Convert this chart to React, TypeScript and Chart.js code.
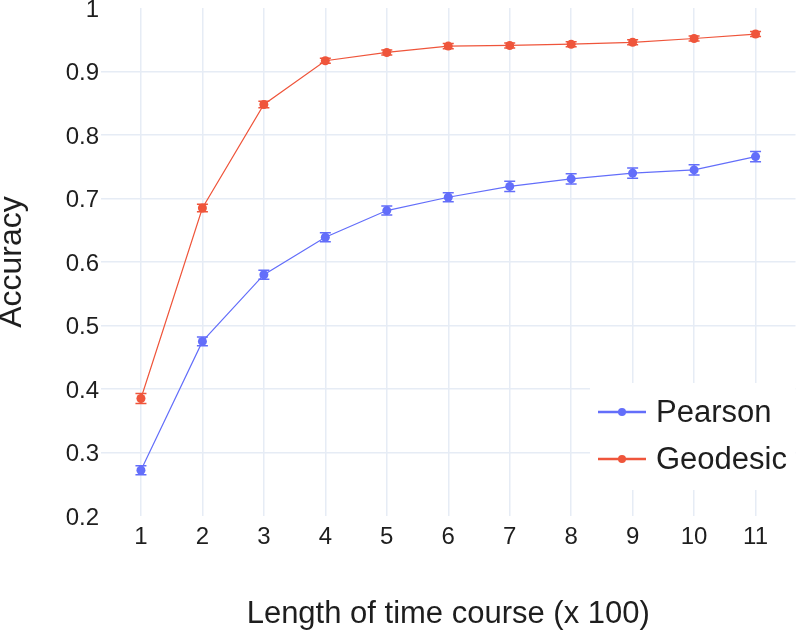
import React, { useEffect, useRef } from "react";
import { Chart, registerables } from "chart.js";

Chart.register(...registerables);

const xValues = [1, 2, 3, 4, 5, 6, 7, 8, 9, 10, 11];
const pearson = [0.272, 0.475, 0.58, 0.639, 0.681, 0.702, 0.719, 0.731, 0.74, 0.745, 0.766];
const pearsonErr = [0.007, 0.007, 0.007, 0.007, 0.007, 0.007, 0.008, 0.008, 0.008, 0.008, 0.008];
const geodesic = [0.385, 0.685, 0.848, 0.917, 0.93, 0.94, 0.941, 0.943, 0.946, 0.952, 0.959];
const geodesicErr = [0.008, 0.006, 0.005, 0.004, 0.004, 0.004, 0.004, 0.004, 0.004, 0.004, 0.004];
const seriesNames = ["Pearson", "Geodesic"];
const seriesColors = ["#636efa", "#ef553b"];
const yTicks = [0.2, 0.3, 0.4, 0.5, 0.6, 0.7, 0.8, 0.9, 1];
const xTitle = "Length of time course (x 100)";
const yTitle = "Accuracy";

const FONT = "'Liberation Sans', Arial, sans-serif";
const GRID = "#e6ecf5";
const TEXT = "#1e1e1e";

const errorBars = {
  id: "errorBars",
  beforeDatasetsDraw(chart: any) {
    const { ctx } = chart;
    const xs = chart.scales.x;
    const ys = chart.scales.y;
    chart.data.datasets.forEach((ds: any) => {
      const errs = ds.errors as number[];
      ctx.save();
      ctx.strokeStyle = ds.borderColor;
      ctx.lineWidth = 1.5;
      ds.data.forEach((p: any, j: number) => {
        const px = xs.getPixelForValue(p.x);
        const y1 = ys.getPixelForValue(p.y + errs[j]);
        const y2 = ys.getPixelForValue(p.y - errs[j]);
        const w = 5.5;
        ctx.beginPath();
        ctx.moveTo(px, y1);
        ctx.lineTo(px, y2);
        ctx.moveTo(px - w, y1);
        ctx.lineTo(px + w, y1);
        ctx.moveTo(px - w, y2);
        ctx.lineTo(px + w, y2);
        ctx.stroke();
      });
      ctx.restore();
    });
  },
};

const customLegend = {
  id: "customLegend",
  afterDraw(chart: any) {
    const { ctx, chartArea } = chart;
    const boxLeft = chartArea.left + 489;
    const boxTop = chartArea.top + 375;
    const boxRight = chartArea.right;
    const boxBottom = chartArea.top + 482;
    ctx.save();
    ctx.fillStyle = "#ffffff";
    ctx.fillRect(boxLeft, boxTop, boxRight - boxLeft, boxBottom - boxTop);
    chart.data.datasets.forEach((ds: any, i: number) => {
      const cy = boxTop + 29 + i * 47;
      const lx1 = boxLeft + 8;
      const lx2 = boxLeft + 56;
      ctx.strokeStyle = ds.borderColor;
      ctx.lineWidth = 2.5;
      ctx.beginPath();
      ctx.moveTo(lx1, cy);
      ctx.lineTo(lx2, cy);
      ctx.stroke();
      ctx.fillStyle = ds.borderColor;
      ctx.beginPath();
      ctx.arc((lx1 + lx2) / 2, cy, 4, 0, Math.PI * 2);
      ctx.fill();
      ctx.fillStyle = TEXT;
      ctx.font = `31px ${FONT}`;
      ctx.textBaseline = "middle";
      ctx.textAlign = "left";
      ctx.fillText(ds.label, boxLeft + 66, cy + 1);
    });
    ctx.restore();
  },
};

export default function App() {
  const ref = useRef<HTMLCanvasElement | null>(null);

  useEffect(() => {
    if (!ref.current) return;
    const seriesValues = [pearson, geodesic];
    const seriesErrs = [pearsonErr, geodesicErr];
    const chart = new Chart(ref.current, {
      type: "line",
      data: {
        datasets: seriesNames.map((name, i) => ({
          label: name,
          data: xValues.map((x, j) => ({ x, y: seriesValues[i][j] })),
          errors: seriesErrs[i],
          borderColor: seriesColors[i],
          backgroundColor: seriesColors[i],
          borderWidth: 1.2,
          pointRadius: 4.5,
          pointBorderWidth: 0,
          pointBackgroundColor: seriesColors[i],
          tension: 0,
        })) as any,
      },
      options: {
        animation: false,
        responsive: true,
        maintainAspectRatio: false,
        layout: { padding: { top: 8, left: 0, right: 0, bottom: 0 } },
        plugins: {
          legend: { display: false },
          tooltip: { enabled: false },
        },
        scales: {
          x: {
            type: "linear",
            min: 0.35,
            max: 11.65,
            afterBuildTicks: (scale: any) => {
              scale.ticks = xValues.map((v) => ({ value: v }));
            },
            afterFit: (scale: any) => {
              scale.height = 117;
              scale.paddingLeft = 0;
              scale.paddingRight = 0;
            },
            border: { display: false },
            grid: { color: GRID, lineWidth: 1.5, drawTicks: false },
            ticks: {
              padding: 7,
              color: TEXT,
              font: { family: FONT, size: 24 },
              callback: (v: any) => String(v),
              maxRotation: 0,
              autoSkip: false,
            },
            title: {
              display: true,
              text: xTitle,
              color: TEXT,
              font: { family: FONT, size: 31, lineHeight: 0.8 },
              padding: { top: 0, bottom: 6 },
            },
          },
          y: {
            type: "linear",
            min: 0.2,
            max: 1,
            afterBuildTicks: (scale: any) => {
              scale.ticks = yTicks.map((v) => ({ value: v }));
            },
            afterFit: (scale: any) => {
              scale.width = 101;
              scale.paddingTop = 0;
              scale.paddingBottom = 0;
            },
            border: { display: false },
            grid: {
              lineWidth: 1.5,
              drawTicks: false,
              color: (c: any) =>
                c.tick && (Math.abs(c.tick.value - 0.2) < 1e-6 || Math.abs(c.tick.value - 1) < 1e-6)
                  ? "rgba(0,0,0,0)"
                  : GRID,
            },
            ticks: {
              padding: 2,
              labelOffset: 2,
              color: TEXT,
              font: { family: FONT, size: 24 },
              callback: (v: any) => String(+Number(v).toFixed(1)),
              autoSkip: false,
            },
            title: {
              display: true,
              text: yTitle,
              color: TEXT,
              font: { family: FONT, size: 32, lineHeight: 0.75 },
              padding: { top: 0, bottom: 0 },
            },
          },
        },
      },
      plugins: [errorBars, customLegend],
    });
    return () => chart.destroy();
  }, []);

  return (
    <div style={{ position: "fixed", left: 0, top: 0, width: 800, height: 633, background: "#fff" }}>
      <canvas ref={ref} />
    </div>
  );
}
